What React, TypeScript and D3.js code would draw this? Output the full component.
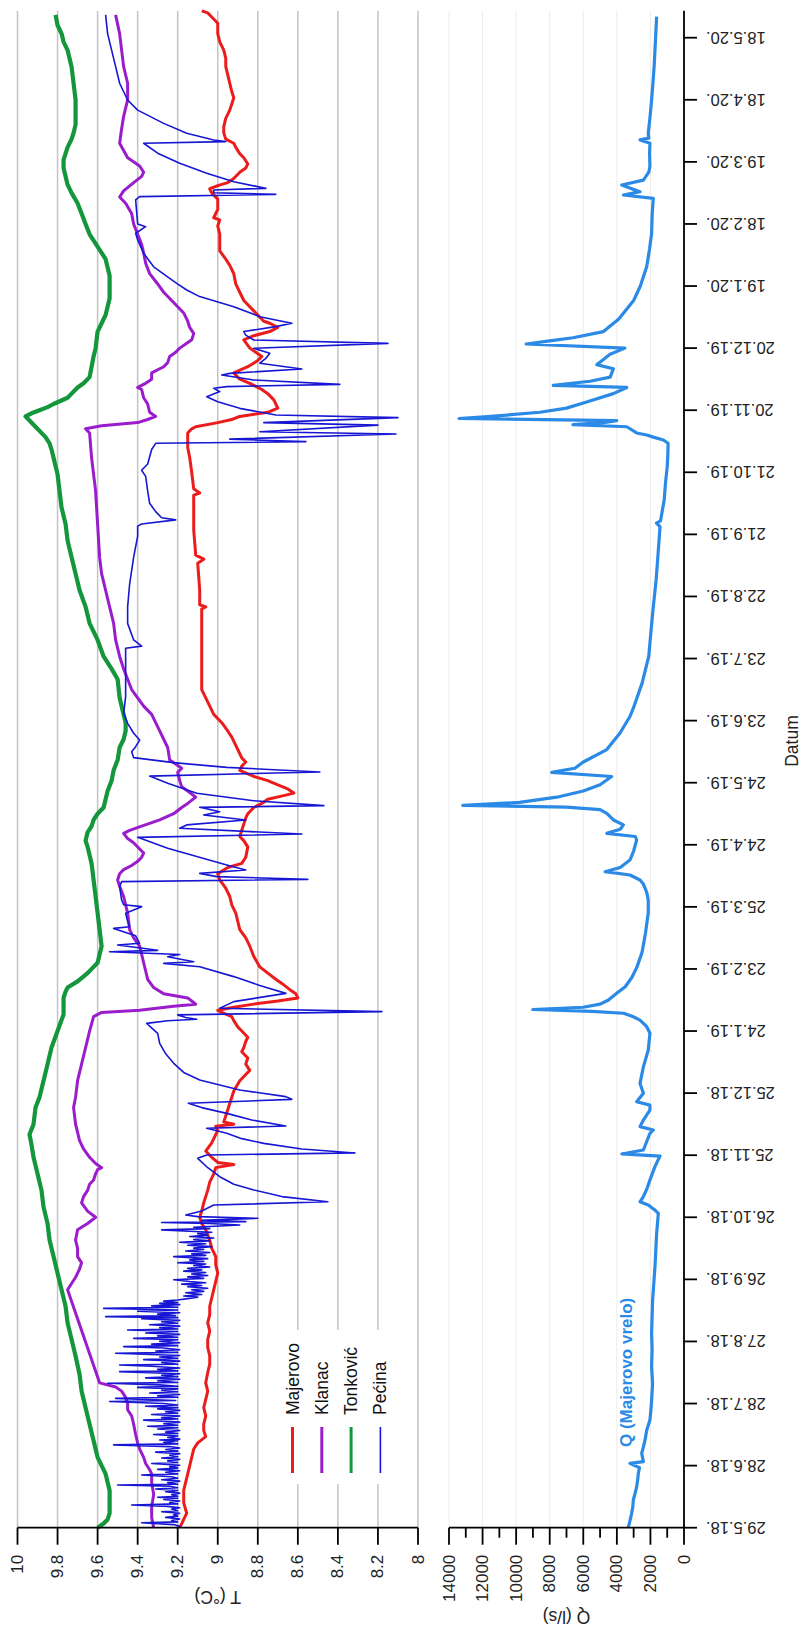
import * as d3 from 'd3'

// chart is drawn in landscape and then turned -90deg, like the source figure
const W = 801
const H = 1632

const startDate = new Date(2018, 4, 29)
const lastDay = 733

const dateTickLabels = [
  '29.5.18.', '28.6.18.', '28.7.18.', '27.8.18.', '26.9.18.', '26.10.18.', '25.11.18.', '25.12.18.',
  '24.1.19.', '23.2.19.', '25.3.19.', '24.4.19.', '24.5.19.', '23.6.19.', '23.7.19.', '22.8.19.',
  '21.9.19.', '21.10.19.', '20.11.19.', '20.12.19.', '19.1.20.', '18.2.20.', '19.3.20.', '18.4.20.', '18.5.20.',
]
const tempTicks = [10, 9.8, 9.6, 9.4, 9.2, 9, 8.8, 8.6, 8.4, 8.2, 8]
const qTicks = [0, 2000, 4000, 6000, 8000, 10000, 12000, 14000]
const qMinorTicks = [1000, 3000, 5000, 7000, 9000, 11000, 13000]

const seriesNames = ['Majerovo', 'Klanac', 'Tonković', 'Pećina']
const seriesColors = ['#ec1c1c', '#9a1ccc', '#14963c', '#1616d4']
const seriesWidths = [3, 3, 4.2, 1.6]

// [days since 29.5.18, temperature °C]
const majerovo: [number, number][] = [
  [0, 9.19], [2, 9.18], [7, 9.155], [12, 9.17], [18, 9.17], [22, 9.16], [26, 9.15], [30, 9.14], [34, 9.13], [38, 9.12],
  [41, 9.1], [44, 9.06], [47, 9.07], [50, 9.07], [54, 9.06], [58, 9.07], [62, 9.06], [66, 9.05], [70, 9.06], [75, 9.05],
  [79, 9.04], [83, 9.04], [87, 9.05], [91, 9.05], [95, 9.04], [99, 9.05], [103, 9.04], [107, 9.04], [111, 9.03], [115, 9.02],
  [119, 9.01], [123, 9.0], [127, 9.01], [131, 9.01], [135, 9.03], [139, 9.04], [144, 9.06], [147, 9.08], [150, 9.09], [153, 9.08],
  [157, 9.07], [160, 9.06], [163, 9.05], [167, 9.04], [171, 9.02], [174, 9.01], [175.5, 8.92], [176.5, 9.0], [179, 9.03], [182, 9.06],
  [186, 9.03], [192, 9.0], [194, 9.01], [195, 8.92], [196, 8.97], [199, 8.96], [202, 8.95], [205, 8.94], [208, 8.93], [211, 8.92],
  [216, 8.89], [219, 8.86], [221, 8.84], [224, 8.86], [227, 8.85], [230, 8.88], [232, 8.87], [235, 8.86], [237, 8.85], [240, 8.88],
  [242, 8.9], [245, 8.92], [247, 8.93], [249, 8.98], [250, 9.0], [251.5, 8.92], [253, 8.82], [254.5, 8.7], [256, 8.6], [258, 8.61],
  [260, 8.64], [263, 8.68], [265, 8.71], [268, 8.75], [271, 8.79], [276, 8.82], [281, 8.84], [285, 8.86], [289, 8.89], [293, 8.9],
  [297, 8.91], [301, 8.93], [305, 8.94], [309, 8.96], [313, 8.99], [316, 9.0], [319, 8.95], [321, 8.88], [324, 8.86], [329, 8.85],
  [332, 8.87], [334, 8.89], [337, 8.88], [340, 8.87], [343, 8.86], [345, 8.85], [348, 8.82], [350, 8.78], [352, 8.75], [354, 8.66],
  [355, 8.62], [357, 8.65], [359, 8.7], [361, 8.75], [363, 8.82], [366, 8.89], [368, 8.88], [370, 8.86], [372, 8.88], [374, 8.89],
  [378, 8.91], [382, 8.93], [385, 8.95], [389, 8.98], [393, 9.02], [397, 9.04], [401, 9.06], [405, 9.08], [420, 9.08], [444, 9.08],
  [445, 9.06], [446, 9.09], [453, 9.09], [466, 9.1], [468, 9.07], [470, 9.11], [482, 9.12], [499, 9.12], [500, 9.09], [502, 9.12],
  [510, 9.13], [517, 9.14], [522, 9.15], [529, 9.15], [531, 9.13], [532, 9.11], [534, 9.0], [535.5, 8.93], [537, 8.89], [539, 8.75],
  [541, 8.7], [543, 8.71], [545, 8.72], [548, 8.75], [550, 8.78], [553, 8.84], [555, 8.89], [558, 8.92], [561, 8.85], [564, 8.8],
  [566, 8.78], [568, 8.81], [570, 8.84], [574, 8.87], [576, 8.82], [578, 8.74], [580, 8.7], [582, 8.74], [583, 8.77], [586, 8.8],
  [588, 8.82], [593, 8.87], [597, 8.89], [601, 8.91], [606, 8.92], [610, 8.94], [613, 8.96], [617, 8.99], [625, 8.99], [629, 9.0],
  [632, 8.99], [633, 9.02], [637, 9.0], [642, 9.0], [645, 9.03], [647, 9.04], [648.5, 9.0], [650, 8.95], [652, 8.92], [655, 8.89],
  [657, 8.86], [659, 8.85], [662, 8.87], [664, 8.89], [667, 8.91], [669, 8.92], [671, 8.96], [674, 8.97], [677, 8.97], [681, 8.96],
  [685, 8.94], [688, 8.93], [691, 8.92], [694, 8.93], [698, 8.94], [702, 8.95], [706, 8.96], [710, 8.96], [714, 8.97], [718, 8.99],
  [722, 9.0], [727, 9.0], [730, 9.03], [732, 9.05], [733, 9.08],
]

const klanac: [number, number][] = [
  [0, 9.32], [5, 9.33], [10, 9.33], [16, 9.32], [22, 9.33], [26, 9.33], [28, 9.34], [31, 9.36], [34, 9.37], [38, 9.39],
  [41, 9.4], [45, 9.41], [50, 9.42], [54, 9.43], [57, 9.45], [60, 9.45], [63, 9.46], [66, 9.48], [68, 9.51], [70, 9.59],
  [115, 9.75], [118, 9.73], [121, 9.71], [125, 9.69], [128, 9.68], [131, 9.7], [135, 9.7], [139, 9.71], [144, 9.7], [147, 9.65],
  [150, 9.61], [153, 9.65], [157, 9.68], [160, 9.67], [163, 9.65], [166, 9.64], [168, 9.62], [171, 9.61], [173, 9.6], [174, 9.58],
  [176, 9.61], [179, 9.64], [183, 9.67], [187, 9.69], [191, 9.7], [195, 9.71], [203, 9.72], [208, 9.71], [216, 9.7], [224, 9.68],
  [232, 9.66], [240, 9.64], [247, 9.62], [249, 9.58], [250, 9.39], [252, 9.22], [253, 9.11], [254.5, 9.13], [256, 9.15], [258, 9.27],
  [261, 9.32], [265, 9.35], [269, 9.36], [273, 9.37], [277, 9.38], [281, 9.39], [285, 9.42], [289, 9.44], [297, 9.45], [301, 9.46],
  [305, 9.47], [310, 9.49], [313, 9.5], [316, 9.49], [318, 9.47], [320, 9.43], [322, 9.4], [324, 9.38], [326, 9.37], [328, 9.39],
  [331, 9.42], [333, 9.45], [335.5, 9.47], [337, 9.44], [339, 9.38], [342, 9.29], [345, 9.22], [348, 9.18], [350, 9.15], [353, 9.11],
  [356, 9.15], [358, 9.18], [361, 9.19], [365, 9.2], [367, 9.18], [369, 9.21], [371, 9.24], [377, 9.25], [381, 9.27], [385, 9.29],
  [389, 9.31], [393, 9.33], [397, 9.37], [401, 9.4], [405, 9.43], [410, 9.45], [415, 9.47], [421, 9.49], [429, 9.51], [437, 9.52],
  [445, 9.54], [453, 9.56], [461, 9.58], [469, 9.59], [485, 9.6], [501, 9.61], [509, 9.62], [517, 9.63], [529, 9.64], [531, 9.66],
  [532.5, 9.58], [534, 9.4], [535.5, 9.35], [537, 9.31], [539, 9.34], [543, 9.35], [546, 9.37], [550, 9.38], [551, 9.4], [553, 9.36],
  [555, 9.33], [558, 9.33], [561, 9.27], [563, 9.25], [566, 9.24], [568, 9.21], [570, 9.19], [572, 9.16], [574, 9.13], [577, 9.12],
  [580, 9.14], [583, 9.15], [587, 9.17], [590, 9.2], [593, 9.23], [597, 9.27], [601, 9.3], [606, 9.34], [611, 9.36], [616, 9.37],
  [620, 9.38], [625, 9.4], [630, 9.42], [635, 9.43], [640, 9.46], [643, 9.49], [646, 9.47], [650, 9.42], [653, 9.38], [655, 9.37],
  [658, 9.39], [662, 9.45], [669, 9.49], [676, 9.48], [682, 9.47], [690, 9.45], [698, 9.45], [706, 9.47], [714, 9.48], [722, 9.49],
  [731, 9.51],
]

const tonkovic: [number, number][] = [
  [0, 9.6], [2, 9.57], [4, 9.55], [7, 9.54], [18, 9.54], [22, 9.55], [26, 9.56], [30, 9.58], [34, 9.6], [42, 9.62],
  [50, 9.64], [58, 9.66], [66, 9.68], [74, 9.69], [83, 9.71], [91, 9.73], [99, 9.75], [107, 9.76], [115, 9.78], [123, 9.8],
  [131, 9.82], [139, 9.84], [147, 9.85], [155, 9.87], [163, 9.88], [171, 9.9], [179, 9.92], [185, 9.93], [190, 9.94], [195, 9.92],
  [203, 9.91], [208, 9.89], [216, 9.87], [224, 9.85], [232, 9.83], [240, 9.8], [248, 9.77], [256, 9.77], [259, 9.76], [261, 9.75],
  [264, 9.7], [268, 9.65], [271, 9.62], [273, 9.6], [277, 9.59], [281, 9.58], [289, 9.59], [297, 9.6], [305, 9.61], [313, 9.62],
  [321, 9.63], [329, 9.65], [332, 9.66], [336, 9.65], [339, 9.63], [342, 9.62], [345, 9.6], [348, 9.57], [352, 9.56], [356, 9.55],
  [361, 9.53], [366, 9.52], [371, 9.5], [377, 9.49], [381, 9.47], [385, 9.46], [389, 9.46], [393, 9.47], [397, 9.48], [401, 9.49],
  [410, 9.5], [415, 9.53], [421, 9.57], [429, 9.6], [437, 9.64], [445, 9.66], [453, 9.69], [461, 9.71], [469, 9.73], [477, 9.75],
  [485, 9.76], [493, 9.78], [501, 9.79], [509, 9.8], [517, 9.82], [521, 9.83], [524, 9.84], [527, 9.86], [530, 9.89], [533, 9.92],
  [535, 9.94], [537, 9.96], [538.5, 9.93], [540, 9.89], [541.5, 9.85], [543, 9.82], [546, 9.75], [548, 9.73], [551, 9.7], [553, 9.67],
  [556, 9.64], [561, 9.63], [566, 9.62], [570, 9.61], [578, 9.6], [582, 9.58], [586, 9.56], [590, 9.55], [594, 9.54], [605, 9.54],
  [609, 9.55], [613, 9.56], [619, 9.6], [625, 9.64], [630, 9.66], [635, 9.68], [640, 9.7], [645, 9.73], [649, 9.75], [653, 9.76],
  [657, 9.77], [661, 9.77], [664, 9.76], [667, 9.75], [671, 9.73], [674, 9.72], [678, 9.71], [690, 9.71], [698, 9.72], [706, 9.73],
  [710, 9.74], [714, 9.75], [718, 9.77], [722, 9.78], [726, 9.8], [731, 9.81],
]

const pecina: [number, number][] = [
  // summer/autumn 2018: noisy logger record with short warm spikes
  [0, 9.21], [0.7, 9.19], [1.5, 9.22], [2.4, 9.38], [2.8, 9.2], [3.5, 9.23], [4.2, 9.19], [5, 9.26], [5.6, 9.2], [6.3, 9.22],
  [7, 9.19], [7.7, 9.28], [8.2, 9.2], [9, 9.23], [9.6, 9.19], [10.3, 9.25], [11, 9.43], [11.5, 9.2], [12.2, 9.24], [12.9, 9.19],
  [13.6, 9.27], [14.2, 9.2], [14.7, 9.3], [15.2, 9.2], [16, 9.23], [16.7, 9.19], [17.4, 9.26], [18, 9.2], [18.7, 9.31], [19.3, 9.2],
  [20, 9.24], [20.6, 9.5], [21, 9.2], [21.8, 9.25], [22.5, 9.19], [23.2, 9.28], [23.9, 9.2], [24.6, 9.23], [25.5, 9.38], [26, 9.2],
  [26.8, 9.26], [27.5, 9.19], [28.2, 9.3], [28.8, 9.2], [29.5, 9.24], [30.2, 9.19], [31, 9.33], [31.5, 9.2], [32.3, 9.25], [33, 9.19],
  [33.7, 9.28], [34.3, 9.2], [35, 9.24], [35.8, 9.19], [36.5, 9.31], [37, 9.2], [37.8, 9.26], [38.5, 9.19], [39.2, 9.24], [40, 9.52],
  [40.5, 9.2], [41.3, 9.27], [42, 9.2], [42.4, 9.29], [42.8, 9.19], [43.6, 9.25], [44.3, 9.2], [45, 9.32], [45.5, 9.2], [46.2, 9.26],
  [47, 9.19], [47.7, 9.3], [48.3, 9.2], [49, 9.35], [49.5, 9.2], [50.2, 9.27], [51, 9.19], [52, 9.37], [52.5, 9.2], [53.2, 9.28],
  [54, 9.19], [54.7, 9.33], [55.3, 9.2], [56, 9.26], [56.7, 9.19], [57.4, 9.3], [58, 9.2], [58.7, 9.36], [59.3, 9.2], [60, 9.27],
  [61, 9.54], [61.5, 9.21], [62.5, 9.51], [63, 9.2], [63.7, 9.3], [64.4, 9.19], [65.1, 9.34], [65.7, 9.2], [66.4, 9.28], [67.1, 9.2],
  [67.8, 9.4], [68.3, 9.2], [69, 9.29], [69.8, 9.55], [70.2, 9.2], [71, 9.3], [71.7, 9.19], [72.4, 9.36], [73, 9.2], [73.7, 9.28],
  [74.4, 9.19], [75.4, 9.49], [75.8, 9.2], [76.5, 9.3], [77.2, 9.19], [78, 9.33], [78.6, 9.49], [79, 9.2], [79.8, 9.28], [80.5, 9.19],
  [81.2, 9.37], [81.8, 9.2], [82.5, 9.29], [83.2, 9.19], [84.3, 9.51], [84.7, 9.2], [85.4, 9.31], [86, 9.19], [86.8, 9.27], [87.5, 9.47],
  [88, 9.2], [88.7, 9.33], [89.4, 9.19], [90.1, 9.29], [90.8, 9.2], [91.5, 9.42], [92, 9.2], [92.7, 9.3], [93.4, 9.19], [94.1, 9.36],
  [94.8, 9.2], [95.5, 9.45], [96, 9.2], [96.7, 9.29], [97.4, 9.19], [98.1, 9.34], [98.8, 9.2], [99.5, 9.28], [100.2, 9.19], [101, 9.38],
  [101.5, 9.2], [102, 9.56], [102.5, 9.21], [103.2, 9.3], [103.9, 9.19], [104.6, 9.4], [105.2, 9.2], [106, 9.57], [106.5, 9.2], [107.2, 9.33],
  [107.8, 9.19], [108.4, 9.29], [108.8, 9.2], [109.5, 9.27], [110, 9.2], [110.7, 9.15], [111.4, 9.1], [112, 9.17], [112.7, 9.08], [113.5, 9.16],
  [114.2, 9.07], [115, 9.13], [115.7, 9.05], [116.4, 9.15], [117, 9.08], [117.7, 9.18], [118.4, 9.06], [119, 9.14], [119.8, 9.22], [120.5, 9.07],
  [121.2, 9.15], [121.9, 9.05], [122.6, 9.13], [123.3, 9.06], [124, 9.17], [124.6, 9.08], [125.3, 9.15], [126, 9.04], [126.7, 9.12], [127.4, 9.06],
  [128, 9.2], [128.7, 9.07], [129.4, 9.14], [130, 9.05], [131, 9.22], [131.6, 9.06], [132.3, 9.13], [133, 9.04], [133.7, 9.16], [134.4, 9.07],
  [135.1, 9.12], [135.8, 9.03], [136.5, 9.15], [137.2, 9.06], [137.9, 9.19], [138.6, 9.04], [139.3, 9.12], [140, 9.02], [140.7, 9.14], [141.4, 9.05],
  [142.1, 9.1], [142.8, 9.03], [143.4, 9.17], [143.9, 9.28], [144.5, 9.04], [145.2, 9.12], [146.3, 8.89], [147, 9.04], [147.5, 9.28], [147.9, 8.86],
  [148.5, 9.08], [149, 8.95], [149.5, 8.8], [150.3, 9.1], [151.1, 9.16], [153, 9.08],
  // rain events from winter 2018/19 on
  [155.9, 9.02], [157.5, 8.45], [160, 8.68], [163.2, 8.82], [166, 8.92], [169.6, 8.99], [174.4, 9.055], [178.5, 9.1], [180.1, 9.055], [181.1, 8.315],
  [183, 8.58], [185.7, 8.77], [188, 8.88], [190.6, 8.955], [193, 9.055], [194.1, 8.66], [197, 8.83], [200.2, 8.955], [203, 9.08], [205.1, 9.147],
  [207, 8.63], [208.3, 8.66], [211.5, 8.89], [216.3, 9.09], [220, 9.17], [224.4, 9.22], [229, 9.26], [234, 9.29], [238.9, 9.3], [243.7, 9.355],
  [245, 9.25], [245.7, 9.105], [246.5, 9.16], [247.8, 9.2], [249.4, 8.18], [251, 8.99], [254.2, 8.92], [258.2, 8.66], [262, 8.79], [266.3, 8.92],
  [271.1, 9.09], [272.7, 9.27], [273.5, 9.12], [275.9, 9.25], [277, 9.19], [278.3, 9.54], [279, 9.3], [281.6, 9.5], [282.4, 9.39], [286, 9.41],
  [289.6, 9.52], [290.4, 9.44], [293, 9.45], [296.9, 9.46], [300.1, 9.38], [301, 9.47], [303.3, 9.48], [309.7, 9.49], [312.2, 9.48], [313.3, 8.55],
  [314.6, 9.005], [316.2, 9.09], [317.8, 8.86], [320.2, 8.955], [324.3, 9.105], [328.3, 9.25], [333.6, 9.4], [335.2, 8.58], [338, 9.19], [339.6, 9.155],
  [342, 8.86], [344.4, 9.07], [346, 8.99], [348.1, 9.09], [348.9, 8.47], [351.3, 8.82], [354.9, 9.105], [359.7, 9.25], [363.2, 9.34], [365.2, 8.49],
  [367.4, 8.955], [369.7, 9.22], [372.1, 9.42], [375, 9.43], [377.4, 9.41], [380.6, 9.39], [383.9, 9.42], [388.7, 9.45], [393.5, 9.47], [401.6, 9.46],
  [425, 9.46], [426, 9.38], [429, 9.42], [437, 9.45], [445, 9.45], [456, 9.44], [469, 9.42], [479, 9.4], [484, 9.4], [485, 9.38],
  [487, 9.21], [488, 9.28], [491, 9.31], [495, 9.34], [501, 9.35], [508, 9.36], [511, 9.38], [514, 9.35], [521, 9.33], [524, 9.31],
  [524.8, 8.56], [526, 8.94], [528.5, 8.11], [529.6, 8.79], [532.8, 8.2], [534, 8.77], [536.4, 8.1], [537.7, 8.71], [540.9, 8.89], [544.1, 9.0],
  [546.5, 9.055], [549, 8.99], [550.6, 9.02], [551.4, 8.955], [552.5, 8.39], [554.6, 8.82], [557, 8.98], [557.8, 8.94], [559.9, 8.58], [562.7, 8.79],
  [565, 8.76], [567.5, 8.74], [569.9, 8.82], [572.3, 8.15], [573.9, 8.82], [576.3, 8.86], [578, 8.87], [580.4, 8.71], [582, 8.63], [585.2, 8.79],
  [590, 8.92], [594.9, 9.09], [598.1, 9.155], [601.3, 9.205], [609.3, 9.32], [615.8, 9.37], [622.3, 9.4], [625.5, 9.41], [628.7, 9.36], [630, 9.4],
  [641.6, 9.41], [643.2, 9.39], [644.3, 8.71], [645.1, 9.02], [646.4, 9.02], [647.2, 8.76], [650.4, 8.92], [654.5, 9.055], [659.3, 9.19], [664.2, 9.3],
  [669, 9.37], [669.8, 8.96], [670.6, 9.02], [673.8, 9.155], [678.6, 9.27], [685, 9.4], [689.9, 9.45], [698, 9.49], [706, 9.51], [714, 9.53],
  [722, 9.55], [731, 9.56],
]

// [days since 29.5.18, discharge l/s]
const discharge: [number, number][] = [
  [0, 3320], [4, 3200], [7, 3120], [10, 3050], [13.4, 3020], [17, 2900], [19.8, 2820], [23, 2760], [26.3, 2720], [29, 2650],
  [31.1, 3220], [31.9, 2420], [35.9, 2520], [39, 2420], [42.4, 2320], [47.2, 2220], [52, 2030], [57, 1970], [61.7, 1930], [69.8, 1870],
  [77.8, 1930], [86, 1900], [93.9, 1930], [102, 1900], [110, 1870], [118, 1800], [126.1, 1730], [134, 1680], [142.2, 1630], [151.9, 1530],
  [153.5, 1730], [154.5, 1900], [155.9, 2130], [157.5, 2620], [160, 2420], [164, 2200], [168, 2030], [174.5, 1730], [179.6, 1430], [180.6, 3700],
  [182.5, 2420], [186, 2250], [190.6, 2030], [192.2, 1830], [193.8, 2620], [197, 2420], [201.8, 2030], [204.2, 2030], [205.8, 2820], [209.9, 2420],
  [214.7, 2620], [222.7, 2420], [230.8, 2130], [238.9, 2030], [242.1, 2220], [245.3, 2620], [246.9, 3020], [248.6, 3600], [249.5, 5500], [250.4, 9010],
  [251.5, 6000], [253, 5000], [255, 4500], [258.2, 4010], [261.4, 3500], [266, 3100], [271, 2800], [278, 2500], [287, 2300], [297, 2130],
  [303.3, 2130], [307, 2220], [311, 2420], [313, 2620], [315.4, 3220], [317, 4700], [319, 3800], [322.6, 3220], [327, 3000], [332.3, 2820],
  [334, 2900], [335.5, 4600], [337.5, 3800], [339.6, 3610], [342, 4200], [345.2, 4600], [347, 5000], [348.2, 7000], [349, 13180], [350.5, 9800],
  [353, 7580], [356, 6000], [359, 5000], [363, 4310], [365, 7880], [367, 6500], [370, 6000], [376, 4600], [384, 3810], [392, 3220],
  [396, 3020], [408, 2500], [421, 2100], [432, 1980], [445, 1830], [458, 1660], [470, 1550], [483.7, 1430], [485.4, 1640], [486.5, 1400],
  [496.6, 1180], [505, 1100], [512.7, 1000], [519, 960], [524, 950], [525.6, 1230], [527, 1830], [528, 2220], [529, 2820], [532, 3410],
  [533, 6610], [534, 4800], [535, 4010], [536, 13400], [537, 11500], [539, 8580], [541, 7000], [544, 5800], [548, 4210], [551, 3410],
  [552, 7790], [554, 5600], [556, 4400], [560, 4210], [562, 5200], [564.5, 4800], [567, 4410], [570, 3520], [572, 9410], [573.5, 8000],
  [575, 6610], [578, 4800], [584, 3900], [593, 3000], [600, 2600], [609.4, 2220], [618, 2050], [625.5, 1930], [634, 1900], [642.4, 1830],
  [644, 3610], [645.6, 2620], [648.8, 3710], [651.2, 2420], [655, 2100], [657.7, 2030], [664, 2050], [669, 2030], [670.6, 2620], [671.5, 2100],
  [673.8, 2130], [682, 2020], [690, 1930], [698, 1850], [706, 1780], [714, 1730], [722, 1680], [730.2, 1630],
]

const temperatureSeries = [majerovo, klanac, tonkovic, pecina]

const dayMs = 864e5
const toDate = (d: number) => new Date(startDate.getTime() + d * dayMs)
const parseTick = d3.timeParse('%d.%m.%y.')

export default function App() {
  // landscape frame: x = time, y = values (top = 10 °C)
  const x = d3.scaleTime().domain([startDate, toDate(lastDay)]).range([104.3, 1621.2])
  const yT = d3.scaleLinear().domain([8, 10]).range([418, 17.5])
  const yQ = d3.scaleLinear().domain([0, 14000]).range([684, 449])
  const [x0, x1] = x.range()

  const tLine = d3.line<[number, number]>()
    .x(p => x(toDate(p[0])))
    .y(p => yT(p[1]))
  const qLine = d3.line<[number, number]>()
    .x(p => x(toDate(p[0])))
    .y(p => yQ(p[1]))

  const font = 'Liberation Sans, Arial, sans-serif'
  const qColor = '#2a8ae6'

  return (
    <svg width={W} height={H} style={{ position: 'absolute', left: 0, top: 0, background: '#fff' }} fontFamily={font}>
      <rect width={W} height={H} fill="#fff" />
      <g transform={`translate(0,${H}) rotate(-90)`}>
        {/* grid */}
        {qTicks.map(q => (
          <line key={'qg' + q} x1={x0} x2={x1} y1={yQ(q)} y2={yQ(q)} stroke="#ececec" strokeWidth={1} />
        ))}
        {tempTicks.map(t => (
          <line key={'tg' + t} x1={x0} x2={x1} y1={yT(t)} y2={yT(t)} stroke="#c4c4c4" strokeWidth={1.5} />
        ))}

        {/* temperature series */}
        {temperatureSeries.map((s, i) => (
          <path key={seriesNames[i]} d={tLine(s) ?? ''} fill="none" stroke={seriesColors[i]}
            strokeWidth={seriesWidths[i]} strokeLinejoin="round" />
        ))}

        {/* discharge */}
        <path d={qLine(discharge) ?? ''} fill="none" stroke={qColor} strokeWidth={3.2} strokeLinejoin="round" />
        <text x={185} y={626} fill={qColor} fontWeight="bold" fontSize={17} dominantBaseline="central">
          Q (Majerovo vrelo)
        </text>

        {/* legend */}
        <rect x={148} y={270} width={154} height={132} fill="#fff" />
        {seriesNames.map((name, i) => {
          const v = 292.5 + i * 29.3
          return (
            <g key={'lg' + name}>
              <line x1={159} x2={205} y1={v} y2={v} stroke={seriesColors[i]} strokeWidth={i === 2 ? 3 : seriesWidths[i]} />
              <text x={217} y={v} fontSize={17.5} dominantBaseline="central" fill="#111">{name}</text>
            </g>
          )
        })}

        {/* temperature axis */}
        <line x1={x0} x2={x0} y1={yT(10)} y2={yT(8)} stroke="#000" strokeWidth={1.8} />
        {tempTicks.map(t => (
          <g key={'tt' + t}>
            <line x1={x0} x2={x0 - 17} y1={yT(t)} y2={yT(t)} stroke="#000" strokeWidth={1.8} />
            <text x={x0 - 27} y={yT(t)} textAnchor="end" dominantBaseline="central" fontSize={17} fill="#222">
              {String(t)}
            </text>
          </g>
        ))}
        <text transform={`translate(35,${(yT(10) + yT(8)) / 2}) rotate(-90)`} textAnchor="middle"
          dominantBaseline="central" fontSize={17.5} fill="#222">T (°C)</text>

        {/* discharge axis */}
        <line x1={x0} x2={x0} y1={yQ(0)} y2={yQ(14000)} stroke="#000" strokeWidth={1.8} />
        {qTicks.map(q => (
          <g key={'qt' + q}>
            <line x1={x0} x2={x0 - 17} y1={yQ(q)} y2={yQ(q)} stroke="#000" strokeWidth={1.8} />
            <text x={x0 - 27} y={yQ(q)} textAnchor="end" dominantBaseline="central" fontSize={17} fill="#222">
              {String(q)}
            </text>
          </g>
        ))}
        {qMinorTicks.map(q => (
          <line key={'qm' + q} x1={x0} x2={x0 - 10} y1={yQ(q)} y2={yQ(q)} stroke="#000" strokeWidth={1.8} />
        ))}
        <text transform={`translate(15,${(yQ(0) + yQ(14000)) / 2}) rotate(-90)`} textAnchor="middle"
          dominantBaseline="central" fontSize={17.5} fill="#222">Q (l/s)</text>

        {/* date axis */}
        <line x1={x0} x2={x1} y1={yQ(0)} y2={yQ(0)} stroke="#000" strokeWidth={1.8} />
        {dateTickLabels.map(lbl => {
          const px = x(parseTick(lbl) as Date)
          return (
            <g key={lbl}>
              <line x1={px} x2={px} y1={yQ(0)} y2={yQ(0) + 13} stroke="#000" strokeWidth={1.8} />
              <text transform={`translate(${px},${yQ(0) + 22}) rotate(-90)`} textAnchor="end"
                dominantBaseline="central" fontSize={16.5} fill="#222">{lbl}</text>
            </g>
          )
        })}
        <text x={891} y={792} textAnchor="middle" dominantBaseline="central" fontSize={17.5} fill="#222">Datum</text>
      </g>
    </svg>
  )
}
